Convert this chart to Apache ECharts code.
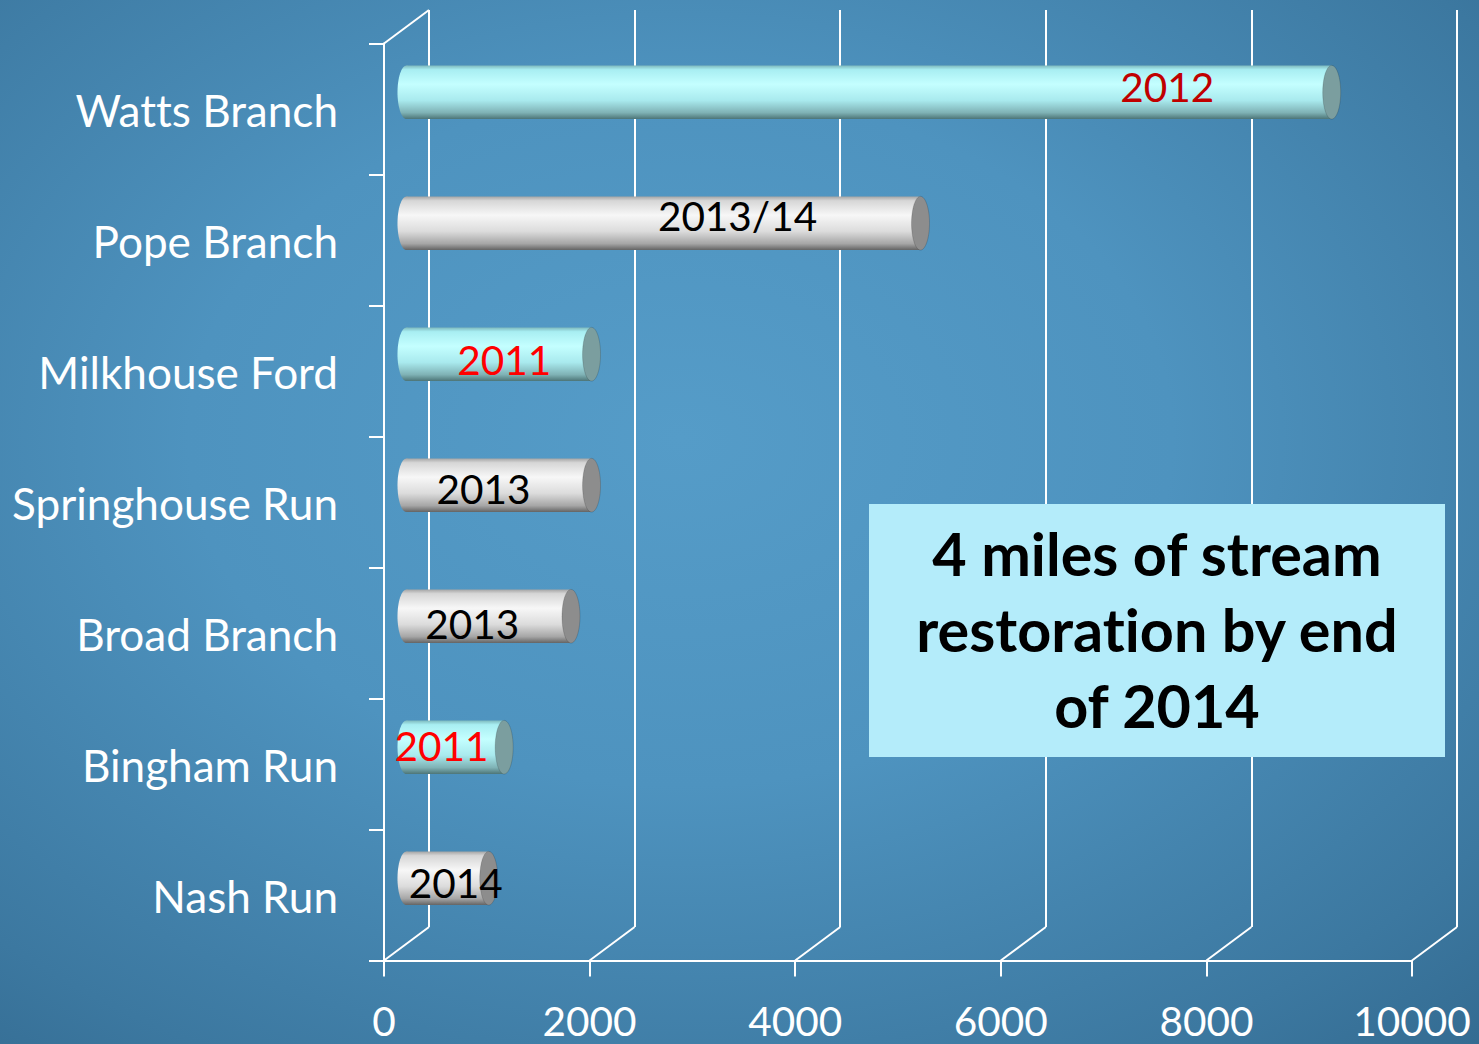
<!DOCTYPE html>
<html><head><meta charset="utf-8">
<script src="https://cdn.jsdelivr.net/npm/echarts@6/dist/echarts.min.js"></script>
<style>
html,body{margin:0;padding:0;background:#2f6489}
#c{width:1479px;height:1044px;}
#c text{font-variant-ligatures:none;font-feature-settings:"liga" 0,"clig" 0,"dlig" 0;}
</style>
</head><body><div id="c"></div>
<script>
// ---- data ----
const categories = ['Watts Branch','Pope Branch','Milkhouse Ford','Springhouse Run','Broad Branch','Bingham Run','Nash Run'];
const lengths = [9000, 5000, 1800, 1800, 1600, 950, 800];
const yearLabels = ['2012', '2013/14', '2011', '2013', '2013', '2011', '2014'];
const yearLabelAt = [7400, 3220, 950, 750, 640, 340, 480];
const status = ['done', 'planned', 'done', 'planned', 'planned', 'done', 'planned'];
const labelTone = ['darkred', 'black', 'red', 'black', 'black', 'red', 'black'];
const xTicks = [0, 2000, 4000, 6000, 8000, 10000];
const noteLines = ['4 miles of stream', 'restoration by end', 'of 2014'];

// ---- styling helpers ----
const FONT = 'Lato';
function fit(text, weight, target) {
  const ctx = document.createElement('canvas').getContext('2d');
  ctx.font = weight + ' 100px ' + FONT;
  return 100 * target / ctx.measureText(text).width;
}
const catSize = fit('Springhouse Run', 'normal', 326);
const numSize = fit('8000', 'normal', 94);
const noteSize = fit('restoration by end', 'bold', 484);

const DX = 45, DY = -33.5;
const labelNudge = [-6, -8, 5.5, 3.5, 7, -2, 4];
const toneColor = { darkred: '#c00000', red: '#ff0000', black: '#000000' };
const bodyStops = {
  done: [[0,'#7db8bc'],[0.08,'#a8eef2'],[0.35,'#c4ffff'],[0.65,'#a9eaee'],[0.88,'#7fb2b5'],[1,'#4c7476']],
  planned: [[0,'#a4a4a4'],[0.08,'#d6d6d6'],[0.35,'#f7f7f7'],[0.65,'#dcdcdc'],[0.88,'#a6a6a6'],[1,'#636363']]
};
const capColor = { done: '#7b9e9f', planned: '#8d8d8d' };
function grad(kind) {
  return new echarts.graphic.LinearGradient(0, 0, 0, 1,
    bodyStops[kind].map(s => ({ offset: s[0], color: s[1] })));
}

const chart = echarts.init(document.getElementById('c'), null, { renderer: 'svg' });

const option = {
  animation: false,
  backgroundColor: {
    type: 'radial', x: 0.46, y: 0.42, r: 0.95,
    colorStops: [
      { offset: 0, color: '#559cc8' },
      { offset: 0.35, color: '#4e93bf' },
      { offset: 0.7, color: '#3c78a0' },
      { offset: 1, color: '#2a5c80' }
    ]
  },
  grid: [
    { left: 384, top: 43.5, width: 1028, height: 917 },
    { left: 384 + DX, top: 43.5 + DY, width: 1028, height: 917 }
  ],
  xAxis: [
    {
      gridIndex: 0, type: 'value', min: 0, max: 10000, interval: 2000,
      axisLine: { show: true, lineStyle: { color: '#ffffff', width: 2 } },
      axisTick: { show: true, length: 16, lineStyle: { color: '#ffffff', width: 2 } },
      axisLabel: { color: '#ffffff', fontSize: numSize, fontFamily: FONT, margin: 43,
                   lineHeight: 34, formatter: v => String(v) },
      splitLine: { show: false }
    },
    {
      gridIndex: 1, type: 'value', min: 0, max: 10000, interval: 2000,
      axisLine: { show: false }, axisTick: { show: false }, axisLabel: { show: false },
      splitLine: { show: true, lineStyle: { color: '#ffffff', width: 2 } }
    }
  ],
  yAxis: [
    {
      gridIndex: 0, type: 'category', data: categories, inverse: true,
      axisLine: { show: true, lineStyle: { color: '#ffffff', width: 2 } },
      axisTick: { show: true, length: 15, lineStyle: { color: '#ffffff', width: 2 } },
      axisLabel: { color: '#ffffff', fontSize: catSize, fontFamily: FONT, margin: 46,
                   padding: [4, 0, 0, 0] },
      splitLine: { show: false }
    },
    { gridIndex: 1, type: 'category', data: categories, inverse: true, show: false }
  ],
  series: [
    {
      // floor diagonals joining the front axis to the back wall
      type: 'custom', xAxisIndex: 0, yAxisIndex: 0, z: 1, silent: true,
      data: xTicks.map(v => [v, 0]),
      renderItem: function (params, api) {
        const cs = params.coordSys;
        const x = api.coord([api.value(0), 0])[0];
        const bottom = cs.y + cs.height;
        const children = [{
          type: 'line',
          shape: { x1: x, y1: bottom, x2: x + DX, y2: bottom + DY },
          style: { stroke: '#ffffff', lineWidth: 2 }
        }];
        if (params.dataIndex === 0) {
          children.push({
            type: 'line',
            shape: { x1: x, y1: cs.y, x2: x + DX, y2: cs.y + DY },
            style: { stroke: '#ffffff', lineWidth: 2 }
          });
        }
        return { type: 'group', children: children };
      }
    },
    {
      type: 'custom', xAxisIndex: 0, yAxisIndex: 0, z: 5, silent: true,
      data: lengths.map((v, i) => [v, i]),
      encode: { x: 0, y: 1 },
      renderItem: function (params, api) {
        const i = api.value(1);
        const v = api.value(0);
        const kind = status[i];
        const a = api.coord([0, i]);
        const b = api.coord([v, i]);
        const band = api.size([0, 1])[1];
        const h = band * 0.41;
        const cy = a[1] + DY / 2;
        const x0 = a[0] + DX / 2, x1 = b[0] + DX / 2;
        const rx = 9;
        const lx = api.coord([yearLabelAt[i], i])[0] + DX / 2;
        return {
          type: 'group',
          children: [
            { type: 'ellipse', shape: { cx: x0, cy: cy, rx: rx, ry: h / 2 }, style: { fill: grad(kind) } },
            { type: 'rect', shape: { x: x0, y: cy - h / 2, width: x1 - x0, height: h }, style: { fill: grad(kind) } },
            { type: 'ellipse', shape: { cx: x1, cy: cy, rx: rx, ry: h / 2 }, style: { fill: capColor[kind], stroke: 'rgba(0,0,0,0.15)', lineWidth: 1 } },
            {
              type: 'text', x: lx, y: cy + labelNudge[i], z2: 10,
              style: {
                text: yearLabels[i], fill: toneColor[labelTone[i]],
                fontSize: numSize, fontFamily: FONT, align: 'center', verticalAlign: 'middle'
              }
            }
          ]
        };
      }
    }
  ],
  graphic: [
    {
      type: 'rect', left: 869, top: 504, z: 100,
      shape: { width: 576, height: 253 },
      style: { fill: '#b4ecfa' }
    },
    {
      type: 'text', x: 1157, y: 629, z: 101,
      style: {
        text: noteLines.join('\n'), fill: '#000000', fontWeight: 'bold',
        fontSize: noteSize, fontFamily: FONT, lineHeight: 76,
        align: 'center', verticalAlign: 'middle'
      }
    }
  ]
};
chart.setOption(option);
</script>
</body></html>
